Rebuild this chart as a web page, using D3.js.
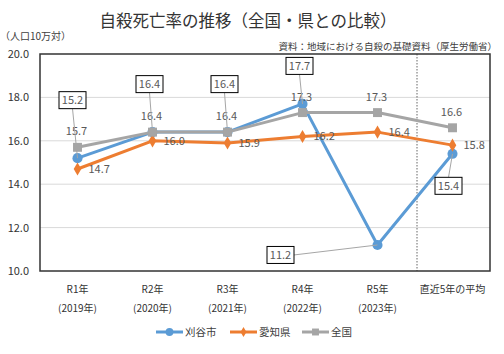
<!DOCTYPE html>
<html><head><meta charset="utf-8">
<script src="https://cdn.jsdelivr.net/npm/d3@7"></script>
<style>
body{margin:0;background:#fff;}
text{font-family:"Noto Sans CJK JP","Noto Sans",sans-serif;}
</style></head>
<body><svg id="chart" width="504" height="354"></svg>
<script>
const categories = ['R1年', 'R2年', 'R3年', 'R4年', 'R5年', '直近5年の平均'];
const subLabels = ['(2019年)', '(2020年)', '(2021年)', '(2022年)', '(2023年)', ''];
const kariya = [15.2, 16.4, 16.4, 17.7, 11.2, 15.4];
const aichi = [14.7, 16.0, 15.9, 16.2, 16.4, 15.8];
const zenkoku = [15.7, 16.4, 16.4, 17.3, 17.3, 16.6];
const yTicks = [10, 12, 14, 16, 18, 20];
// box label offsets for 刈谷市 (dx, dy from point)
const kariyaBox = [[-5, -58], [-3, -48], [-3, -48], [-3, -38], [-97, 10], [-4, 32]];

const svg = d3.select('#chart');
const margin = {left: 40, right: 14, top: 54, bottom: 83};
const width = 504, height = 354;

const x = d3.scaleBand().domain(categories).range([margin.left, width - margin.right]);
const y = d3.scaleLinear().domain([10, 20]).range([height - margin.bottom, margin.top]);
const cx = c => x(c) + x.bandwidth() / 2;

// title
svg.append('text').attr('x', 248).attr('y', 27).attr('text-anchor', 'middle')
  .attr('font-size', 16.5).attr('fill', '#333').text('自殺死亡率の推移（全国・県との比較）');
svg.append('text').attr('x', 0).attr('y', 40).attr('font-size', 10).attr('fill', '#404040').text('（人口10万対）');
svg.append('text').attr('x', 497).attr('y', 50).attr('text-anchor', 'end')
  .attr('font-size', 9.5).attr('fill', '#404040').text('資料：地域における自殺の基礎資料（厚生労働省）');

// gridlines
svg.append('g').selectAll('line').data(yTicks.slice(1, -1)).enter().append('line')
  .attr('x1', margin.left).attr('x2', width - margin.right)
  .attr('y1', d => y(d)).attr('y2', d => y(d))
  .attr('stroke', '#d9d9d9').attr('stroke-width', 1);

// y labels
svg.append('g').selectAll('text').data(yTicks).enter().append('text')
  .attr('x', 29).attr('y', d => y(d) + 4).attr('text-anchor', 'end')
  .attr('font-size', 11).attr('fill', '#333').text(d => d.toFixed(1));

// divider before average
const divX = x(categories[5]) + 2;
svg.append('line').attr('x1', divX).attr('x2', divX).attr('y1', margin.top).attr('y2', height - margin.bottom)
  .attr('stroke', '#404040').attr('stroke-width', 0.8).attr('stroke-dasharray', '1.5,1.5');

// x labels
const xl = svg.append('g');
xl.selectAll('text.l1').data(categories).enter().append('text').attr('class', 'l1')
  .attr('x', d => cx(d)).attr('y', 293).attr('text-anchor', 'middle')
  .attr('font-size', 10).attr('fill', '#333').text(d => d);
xl.selectAll('text.l2').data(subLabels).enter().append('text').attr('class', 'l2')
  .attr('x', (d, i) => cx(categories[i])).attr('y', 312).attr('text-anchor', 'middle')
  .attr('font-size', 10).attr('fill', '#333').text(d => d);

// series
const series = [
  {name: '刈谷市', values: kariya, color: '#5B9BD5', marker: d3.symbolCircle, size: 80},
  {name: '愛知県', values: aichi, color: '#ED7D31', marker: d3.symbolDiamond, size: 50},
  {name: '全国', values: zenkoku, color: '#A5A5A5', marker: d3.symbolSquare, size: 80}
];
const line = d3.line().x((d, i) => cx(categories[i])).y(d => y(d));

series.forEach(s => {
  svg.append('path').datum(s.values).attr('d', line).attr('fill', 'none')
    .attr('stroke', s.color).attr('stroke-width', 3).attr('stroke-linejoin', 'round');
  svg.append('g').selectAll('path').data(s.values).enter().append('path')
    .attr('d', d3.symbol().type(s.marker).size(s.size))
    .attr('transform', (d, i) => `translate(${cx(categories[i])},${y(d)})`)
    .attr('fill', s.color);
});

// plot border
svg.append('rect').attr('x', margin.left).attr('y', margin.top)
  .attr('width', width - margin.left - margin.right).attr('height', height - margin.top - margin.bottom)
  .attr('fill', 'none').attr('stroke', '#333').attr('stroke-width', 1.5);

// 全国 labels above
svg.append('g').selectAll('text').data(zenkoku).enter().append('text')
  .attr('x', (d, i) => cx(categories[i]) - 1).attr('y', d => y(d) - 12)
  .attr('text-anchor', 'middle').attr('font-size', 11).attr('fill', '#595959')
  .text(d => d.toFixed(1));

// 愛知県 labels right
svg.append('g').selectAll('text').data(aichi).enter().append('text')
  .attr('x', (d, i) => cx(categories[i]) + 11).attr('y', d => y(d) + 4)
  .attr('font-size', 11).attr('fill', '#595959')
  .text(d => d.toFixed(1));

// 刈谷市 boxed labels with leader lines
const boxes = svg.append('g');
kariya.forEach((v, i) => {
  const px = cx(categories[i]), py = y(v);
  const bx = px + kariyaBox[i][0], by = py + kariyaBox[i][1];
  const bw = 27, bh = 17;
  let lx = bx, ly = by + bh / 2;
  if (kariyaBox[i][1] > 0) ly = by - bh / 2;
  if (i === 4) { lx = bx + bw / 2; ly = by; }
  boxes.append('line').attr('x1', px).attr('y1', py).attr('x2', lx).attr('y2', ly)
    .attr('stroke', '#a6a6a6').attr('stroke-width', 1);
  boxes.append('rect').attr('x', bx - bw / 2).attr('y', by - bh / 2).attr('width', bw).attr('height', bh)
    .attr('fill', '#fff').attr('stroke', '#000').attr('stroke-width', 1);
  boxes.append('text').attr('x', bx).attr('y', by + 4).attr('text-anchor', 'middle')
    .attr('font-size', 11).attr('fill', '#595959').text(v.toFixed(1));
});

// legend
const legendX = [156, 230, 302];
const lg = svg.append('g');
series.forEach((s, i) => {
  const lx = legendX[i], ly = 332;
  lg.append('line').attr('x1', lx).attr('x2', lx + 27).attr('y1', ly).attr('y2', ly)
    .attr('stroke', s.color).attr('stroke-width', 3);
  lg.append('path').attr('d', d3.symbol().type(s.marker).size(s.size * 0.6))
    .attr('transform', `translate(${lx + 13.5},${ly})`).attr('fill', s.color);
  lg.append('text').attr('x', lx + 29).attr('y', ly + 4).attr('font-size', 10.5)
    .attr('fill', '#404040').text(s.name);
});
</script></body></html>
